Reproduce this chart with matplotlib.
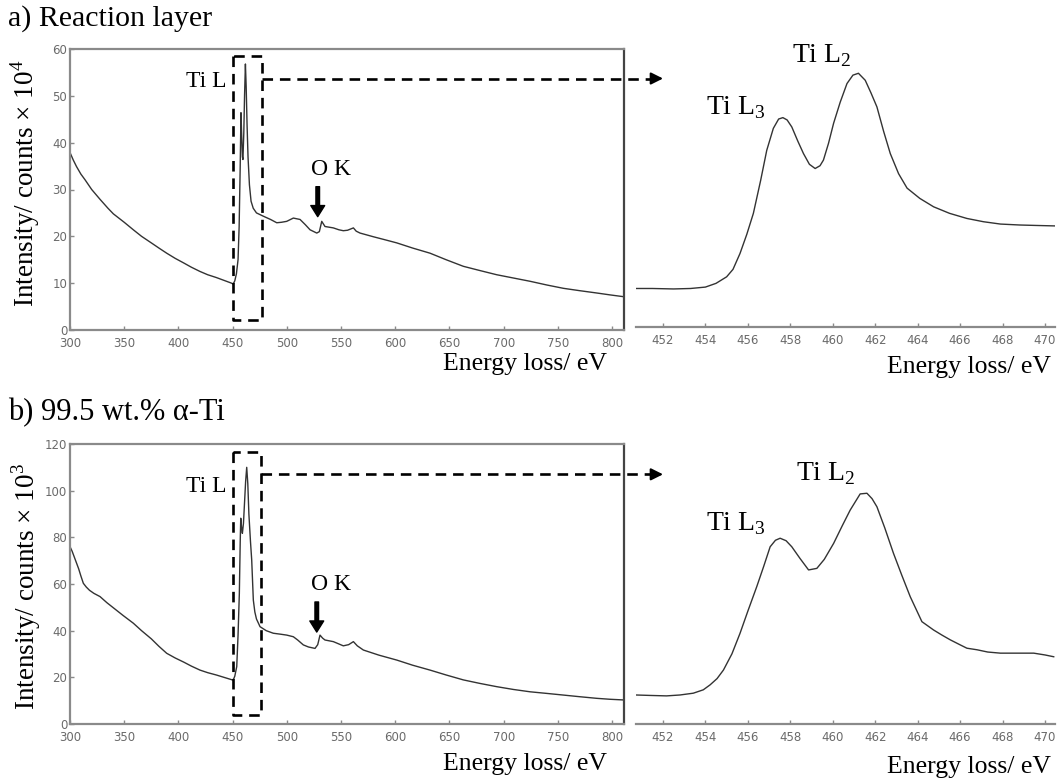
import numpy as np
import matplotlib
matplotlib.use("Agg")
import matplotlib.pyplot as plt

plt.rcParams['mathtext.fontset'] = 'custom'
plt.rcParams['mathtext.rm'] = 'Liberation Serif'

SERIF = 'Liberation Serif'
TICK_GREY = '#6a6a6a'
SPINE_GREY = '#8a8a8a'
LINE = '#333333'

# ---- a) reaction layer, full EELS survey (counts x 10^4)
survey_a_ev = [300, 303, 306, 310, 313.8, 320, 327.7, 335, 340, 350, 358.4, 366, 375,
               382, 389.2, 397, 405, 412, 419.9, 427, 435, 442, 449, 450.5, 452,
               453.5, 455, 456, 457, 457.7, 458.3, 459.0, 459.5, 460.3, 461, 461.8,
               462.5, 463.3, 464.2, 465.5, 467, 469, 472, 478.3, 485, 490.7, 495,
               499.9, 506, 512.2, 517, 521.4, 527.6, 530, 532.2, 535.2, 542.9, 548,
               552.1, 556, 561.4, 564, 567.5, 580, 590, 601.4, 616, 632.1, 647,
               662.8, 678, 693.6, 709, 724.4, 740, 755.1, 770, 785.9, 798, 811]
survey_a_cts = [37.9, 36.3, 34.9, 33.3, 32.1, 30.0, 27.9, 26.0, 24.8, 23.0, 21.4, 20.0,
                18.6, 17.5, 16.4, 15.3, 14.3, 13.4, 12.5, 11.8, 11.2, 10.6, 10.0, 9.8,
                10.5, 12.0, 15.0, 22.0, 35.0, 46.4, 42.0, 37.0, 36.4, 42.0, 50.0,
                56.8, 52.0, 44.0, 37.0, 31.0, 27.5, 26.0, 25.0, 24.3, 23.6, 22.9,
                23.0, 23.2, 23.9, 23.6, 22.5, 21.4, 20.7, 21.0, 23.2, 22.1, 21.8,
                21.4, 21.2, 21.3, 21.8, 21.1, 20.7, 19.9, 19.3, 18.6, 17.5, 16.4,
                15.0, 13.6, 12.7, 11.8, 11.1, 10.4, 9.6, 8.9, 8.4, 7.9, 7.5, 7.1]

# ---- a) Ti L2,3 edge detail
edge_a_ev = [450.73, 451.5, 452.5, 453.3, 454.0, 454.5, 455.0, 455.3, 455.63, 455.95,
             456.26, 456.6, 456.89, 457.2, 457.45, 457.65, 457.85, 458.07, 458.35,
             458.62, 458.9, 459.17, 459.4, 459.56, 459.8, 460.04, 460.35, 460.67,
             460.95, 461.21, 461.53, 461.8, 462.08, 462.4, 462.71, 463.1, 463.5,
             464.1, 464.75, 465.5, 466.32, 467.1, 467.9, 468.8, 469.6, 470.49]
edge_a_cts = [8.9, 8.9, 8.8, 8.9, 9.2, 10.0, 11.4, 13.0, 16.4, 20.5,
              25.0, 32.0, 38.5, 43.2, 45.2, 45.5, 45.0, 43.5, 40.5,
              37.8, 35.5, 34.6, 35.2, 36.4, 40.0, 44.3, 48.8, 52.8,
              54.6, 55.0, 53.5, 50.8, 47.8, 42.5, 37.8, 33.5, 30.4,
              28.2, 26.4, 25.0, 23.9, 23.2, 22.7, 22.5, 22.4, 22.3]

# ---- b) 99.5 wt.% alpha-Ti, full survey (counts x 10^3)
survey_b_ev = [300, 302, 304, 306, 308, 310, 312.3, 315, 318, 322, 327.7, 334, 340,
               349, 358.4, 366, 375, 382, 389.2, 397, 405, 412, 419.9, 427, 435, 442,
               449, 450.5, 452, 453.8, 455, 456.2, 457, 457.5, 458.3, 459.0, 460, 461,
               462, 463.0, 464, 465, 466.5, 467.6, 469.1, 470.5, 472, 475.3, 481,
               487.5, 494, 499.9, 506, 510, 515.2, 520, 526, 528.5, 530.6, 533,
               535.2, 542.9, 547, 552.1, 557, 561.4, 565, 570.6, 585, 601.4, 616,
               632.1, 647, 662.8, 678, 693.6, 709, 724.4, 740, 755.1, 770, 785.9,
               798, 811]
survey_b_cts = [76, 74, 71.5, 69, 66.5, 63.5, 60.3, 58.7, 57.3, 56.0, 54.6, 52.0, 49.8,
                46.5, 43.2, 40.0, 36.5, 33.3, 30.3, 28.3, 26.5, 24.8, 23.1, 22.0, 21.0,
                20.0, 19.0, 18.8, 20.5, 24.6, 38, 56, 78, 88.2, 84, 81.7, 86, 95,
                104, 110.0, 103, 90, 78, 70.3, 53.1, 48, 45, 41.7, 40.0,
                38.9, 38.5, 38.1, 37.4, 36, 33.9, 33.0, 32.4, 34, 38.1, 36.8,
                36.0, 35.3, 34.5, 33.5, 34.0, 35.3, 33.5, 31.7, 29.5, 27.4, 25.2,
                23.1, 21.0, 18.9, 17.4, 16.0, 14.8, 13.8, 13.1, 12.4, 11.7, 11.0,
                10.6, 10.3]

# ---- b) Ti L2,3 edge detail
edge_b_ev = [450.73, 451.4, 452.17, 452.8, 453.43, 453.9, 454.22, 454.55, 454.85,
             455.25, 455.63, 456.0, 456.42, 456.75, 457.05, 457.3, 457.52, 457.8,
             458.07, 458.45, 458.86, 459.25, 459.6, 460.04, 460.45, 460.82, 461.29,
             461.61, 461.85, 462.08, 462.45, 462.86, 463.25, 463.65, 464.2, 464.75,
             465.15, 465.54, 466.0, 466.32, 466.8, 467.3, 467.9, 468.7, 469.47,
             470.0, 470.41]
edge_b_cts = [10.2, 10.0, 9.8, 10.2, 11.0, 12.5, 14.7, 17.5, 21.3,
              28.5, 37.6, 47.5, 58.4, 67.5, 76.1, 79.0, 79.9, 78.8,
              76.1, 71.0, 65.8, 66.5, 70.5, 77.6, 85.5, 92.4, 99.6,
              99.9, 97.5, 93.9, 84.5, 73.2, 63.5, 53.9, 42.8, 39.1,
              36.8, 34.7, 32.5, 31.0, 30.3, 29.3, 28.8, 28.8, 28.8,
              28.0, 27.2]

survey_ticks = list(range(300, 801, 50))
edge_ticks = list(range(452, 471, 2))

W, H = 1058, 782
fig = plt.figure(figsize=(W / 100, H / 100), dpi=100)


def px_axes(left, top, right, bottom):
    return fig.add_axes([left / W, 1 - bottom / H, (right - left) / W, (bottom - top) / H])


def style_ticks(ax):
    ax.tick_params(axis='both', direction='in', length=3, width=1, colors=SPINE_GREY,
                   labelcolor=TICK_GREY, labelsize=8.5)
    ax.tick_params(axis='x', pad=5)
    ax.tick_params(axis='y', pad=2)
    for lab in ax.get_xticklabels() + ax.get_yticklabels():
        lab.set_family('DejaVu Sans')


def survey_panel(ax, ev, cts, ymax, ystep):
    ax.plot(ev, cts, color=LINE, lw=1.0)
    ax.set_xlim(300, 811)
    ax.set_ylim(0, ymax)
    ax.set_xticks(survey_ticks)
    ax.set_yticks(np.arange(0, ymax + 1, ystep))
    for side in ['left', 'bottom', 'top']:
        ax.spines[side].set_color(SPINE_GREY)
        ax.spines[side].set_linewidth(1.6)
    ax.spines['right'].set_color('#444444')
    ax.spines['right'].set_linewidth(1.6)
    style_ticks(ax)


def edge_panel(ax, ev, cts, ylim):
    ax.patch.set_visible(False)
    ax.plot(ev, cts, color=LINE, lw=1.0)
    ax.set_xlim(450.73, 470.47)
    ax.set_ylim(*ylim)
    ax.set_xticks(edge_ticks)
    ax.set_yticks([])
    for side in ['left', 'right', 'top']:
        ax.spines[side].set_visible(False)
    ax.spines['bottom'].set_color(SPINE_GREY)
    ax.spines['bottom'].set_linewidth(1.6)
    style_ticks(ax)


def ti_box(ax, x0, x1, y0, y1, y_link, x_tip):
    dash = dict(color='k', lw=1.9, ls=(0, (4, 2.6)), clip_on=False, zorder=5)
    ax.plot([x0, x0, x1, x1, x0], [y1, y0, y0, y1, y1], **dash)
    ax.plot([x1, x_tip - 11], [y_link, y_link], **dash)
    ax.annotate('', xy=(x_tip, y_link), xytext=(x_tip - 11, y_link),
                arrowprops=dict(arrowstyle='-|>', color='k', lw=1.5, mutation_scale=18,
                                shrinkA=0, shrinkB=0), annotation_clip=False, zorder=5)


def ok_arrow(ax, x, y_top, y_tip, label_x, label_y):
    ax.annotate('', xy=(x, y_tip), xytext=(x, y_top),
                arrowprops=dict(width=2.6, headwidth=10, headlength=8, color='k', shrink=0))
    ax.text(label_x, label_y, 'O K', family=SERIF, fontsize=17, ha='center', va='center')


# a) Reaction layer
ax_a = px_axes(70, 49, 624, 330)
survey_panel(ax_a, survey_a_ev, survey_a_cts, 60, 10)
ax_a.text(444.8, 53.1, 'Ti L', family=SERIF, fontsize=17, ha='right', va='center')
ok_arrow(ax_a, 528.5, 30.6, 24.2, 540.8, 34.3)

ax_a2 = px_axes(636, 49, 1055, 327)
edge_panel(ax_a2, edge_a_ev, edge_a_cts, (0.65, 60.2))
fig.text(766 / W, 1 - 108 / H, r'Ti L$_{\mathregular{3}}$', family=SERIF, fontsize=20,
         ha='right', va='center')
fig.text(822 / W, 1 - 56 / H, r'Ti L$_{\mathregular{2}}$', family=SERIF, fontsize=20,
         ha='center', va='center')

# b) 99.5 wt.% alpha-Ti
ax_b = px_axes(70, 444, 624, 724)
survey_panel(ax_b, survey_b_ev, survey_b_cts, 120, 20)
ax_b.text(444.8, 101.6, 'Ti L', family=SERIF, fontsize=17, ha='right', va='center')
ok_arrow(ax_b, 527.6, 52.3, 39.4, 540.3, 59.6)

ax_b2 = px_axes(636, 444, 1055, 724)
edge_panel(ax_b2, edge_b_ev, edge_b_cts, (-2.7, 121.8))
fig.text(766 / W, 1 - 524 / H, r'Ti L$_{\mathregular{3}}$', family=SERIF, fontsize=20,
         ha='right', va='center')
fig.text(826 / W, 1 - 474 / H, r'Ti L$_{\mathregular{2}}$', family=SERIF, fontsize=20,
         ha='center', va='center')

# dashed zoom boxes drawn last so they sit over the detail panels
ti_box(ax_a, 450.4, 477.1, 2.1, 58.5, 53.7, 847.0)
ti_box(ax_b, 450.0, 475.8, 3.9, 116.7, 107.0, 847.0)

# panel titles, axis labels
fig.text(8 / W, 1 - 19 / H, 'a) Reaction layer', family=SERIF, fontsize=21.5,
         ha='left', va='center')
fig.text(8 / W, 1 - 413 / H, 'b) 99.5 wt.% α-Ti', family=SERIF, fontsize=22,
         ha='left', va='center')

fig.text(25 / W, 1 - 183 / H, r'Intensity/ counts × 10$^{\mathregular{4}}$', family=SERIF,
         fontsize=19.5, rotation=90, ha='center', va='center')
fig.text(26 / W, 1 - 586 / H, r'Intensity/ counts × 10$^{\mathregular{3}}$', family=SERIF,
         fontsize=19.5, rotation=90, ha='center', va='center')

for yc in (364, 764):
    fig.text(525 / W, 1 - yc / H, 'Energy loss/ eV', family=SERIF, fontsize=18.5,
             ha='center', va='center')
    fig.text(969 / W, 1 - (yc + 3) / H, 'Energy loss/ eV', family=SERIF, fontsize=18.5,
             ha='center', va='center')

fig.savefig('out.png', dpi=100)
